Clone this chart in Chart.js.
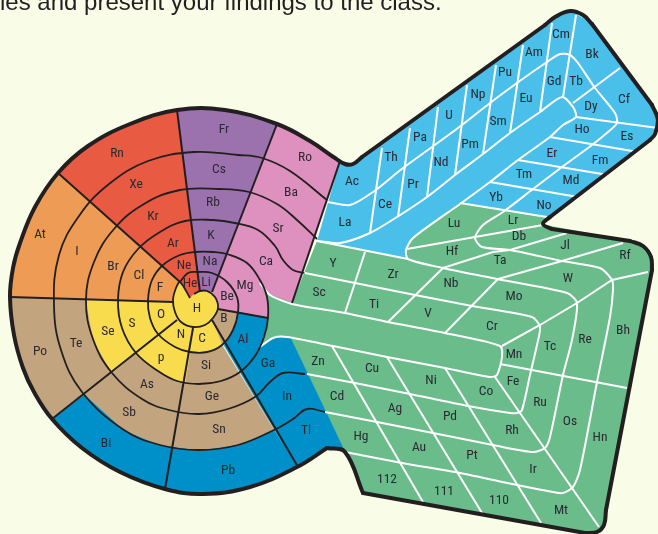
<!DOCTYPE html>
<html><head><meta charset="utf-8">
<style>html,body{margin:0;padding:0;background:#f9fde8;overflow:hidden}canvas{display:block}</style>
<script src="https://cdn.jsdelivr.net/npm/chart.js@4/dist/chart.umd.min.js"></script>
</head><body><canvas id="c" width="658" height="534"></canvas>
<script>
// ---- filled regions (values on the x / y linear scales)
const regionOrange=[[10,297],[173,302],[180,282],[58,173],[35,207],[20,243],[13,268]];
const regionRed=[[58,173],[88,146],[130,124],[177,110],[198,272],[200,292],[195,293],[190,298],[180,282]];
const regionPurple=[[177,110],[225,110],[277,124],[212,292],[202,291],[200,292]];
const regionPink=[[277,124],[310,141],[340,161],[292,303],[270,295],[260,283],[267,297],[268,318],[218,309],[215,295],[212,292]];
const regionSky=[[340,161],[353,164],[552,20],[570,11],[590,22],[652,105],[658,120],[650,140],[547,218],[460,203],[413,238],[406,250],[408,259],[317,241]];
const regionGreen=[[317,241],[408,259],[406,250],[413,238],[460,203],[547,218],[543,225],[630,241],[643,246],[651,257],[652,270],[606,510],[604,525],[597,532],[585,533],[363,493],[345,452],[327,448],[290,337],[273,338],[260,347],[264,337],[268,318],[267,297],[260,283],[270,295],[292,303]];
const regionBlueA=[[238,312],[268,318],[264,337],[260,347],[273,338],[290,337],[344,450],[327,448],[297,467],[240,372],[224,345],[233,330]];
const regionBlueB=[[52,419],[82,392],[124,430],[160,445],[199,450],[238,445],[274,430],[298,467],[250,487],[203,494],[165,489],[120,472],[82,448]];
const regionTanA=[[10,297],[86,300],[93,339],[112,373],[52,419],[34,392],[23,368],[14,335]];
const regionTanB=[[190,352],[207,352],[222,345],[274,430],[238,445],[199,450],[160,445],[124,430],[82,392],[112,373],[136,353],[158,371],[177,381],[185,382]];
const regionTanC=[[218,309],[238,312],[233,330],[222,345],[212,320]];
const regionYellow=[[86,300],[173,302],[175,312],[181,322],[193,327],[212,320],[222,345],[207,352],[190,352],[185,382],[177,381],[158,371],[136,353],[112,373],[93,339]];
const regionH=[[190,298],[180,282],[176,288],[173,300],[175,312],[181,322],[193,327],[205,325],[213,318],[218,308],[215,297],[207,291],[200,291],[194,294]];
const fillRegions=[[regionOrange,'#ee9c55'],[regionRed,'#e85b42'],[regionPurple,'#9b72ae'],[regionPink,'#de90be'],[regionSky,'#4abfe9'],[regionGreen,'#6abc8b'],[regionBlueA,'#0090c9'],[regionBlueB,'#0090c9'],[regionTanA,'#c2a47e'],[regionTanB,'#c2a47e'],[regionTanC,'#c2a47e'],[regionYellow,'#f9dc4e']];

// ---- white separators
const whiteBandA=[[328,202],[350,205],[373,192],[403,168],[432,147],[462,125],[490,103],[517,83],[547,62],[560,54],[570,55],[578,63],[595,88],[615,113],[617,123],[608,132],[592,145],[562,167],[533,189],[503,212],[483,225],[475,238],[482,247],[510,250],[562,261],[600,268],[612,280],[613,290],[610,317],[597,382],[580,470],[573,487],[563,493],[553,492],[517,485],[460,473],[402,463],[345,452]];
const whiteBandB=[[317,241],[340,243],[370,233],[397,217],[427,197],[455,175],[483,154],[510,133],[540,112],[562,97],[573,107],[576,117],[563,125],[550,137],[518,160],[490,182],[460,204],[413,238],[406,250],[408,259],[443,268],[497,279],[567,293],[577,303],[572,340],[563,375],[550,437],[545,448],[533,452],[493,445],[433,433],[377,422],[325,412]];
const whiteBar=[[260,283],[270,295],[292,304],[345,313],[388,322],[445,333],[500,346],[502,357],[497,375],[490,377],[445,368],[387,357],[333,346],[287,337],[273,338],[260,347]];
const whiteBandC=[[305,273],[355,283],[415,295],[472,306],[532,317],[540,327],[537,345],[530,375],[522,410],[517,413],[510,413],[468,406],[410,394],[355,383],[307,374]];
const whiteStraight=[
 [[317,241],[408,259]],[[460,203],[547,217]],
 [[407,249],[475,237],[543,225]],[[443,268],[493,252],[510,250],[567,233]],[[498,279],[562,261],[623,243]],
 [[502,346],[540,325],[577,303],[612,280],[648,272]],
 [[365,252],[345,313]],[[443,268],[388,322]],[[498,279],[445,333]],
 [[576,15],[563,97]],[[552,23],[540,112]],[[523,45],[510,133]],[[496,65],[483,154]],[[467,85],[455,175]],[[438,107],[427,197]],[[410,128],[398,217]],[[382,148],[370,233]],
 [[573,103],[620,68]],[[576,117],[658,128]],[[550,137],[638,152]],[[518,160],[608,175]],[[490,182],[578,197]],
 [[332,346],[423,502]],[[387,357],[482,513]],[[445,368],[541,523]],[[495,377],[599,527]],[[500,364],[627,388]]
];

// ---- black spiral rings and rays
const ringA=[[180,282],[188,273],[198,272],[212,273],[227,282],[237,297],[238,312],[233,330],[222,345],[207,352],[190,352],[175,347],[158,334],[150,318],[148,300],[152,280],[163,265],[180,255],[195,252],[213,252],[227,254],[247,263],[260,280],[267,297],[268,318],[264,337],[255,356],[240,372],[221,381],[199,384],[177,381],[158,371],[136,353],[122,328],[118,300],[123,272],[138,249],[160,232],[185,221],[213,220],[235,223],[258,230],[275,246],[283,260],[293,270],[304,273]];
const ringB=[[305,374],[283,373],[270,382],[255,397],[228,409],[199,414],[169,410],[142,399],[112,373],[93,339],[86,300],[94,262],[114,229],[144,204],[180,190],[219,189],[249,192],[277,204],[297,220],[317,239]];
const ringC=[[325,412],[307,409],[293,419],[274,430],[238,445],[199,450],[160,445],[124,430],[82,392],[61,350],[54,305],[59,255],[79,216],[109,184],[148,161],[194,152],[238,155],[262,158],[290,171],[327,200]];
const rays=[[[10,297],[173,302]],[[58,173],[180,282]],[[177,110],[200,292]],[[277,124],[212,292]],[[340,161],[292,303]],[[218,309],[268,318]],[[212,320],[298,467]],[[193,328],[165,489]],[[52,419],[177,320]]];

// ---- thick outer contour
const outline=[
 [[327,448],[297,467],[250,487],[203,494],[165,489],[120,472],[82,448],[52,419],[34,392],[23,368],[14,335],[10,297],[13,268],[20,243],[35,207],[58,173],[88,146],[130,124],[177,110],[225,110],[277,124],[310,141],[335,158],[345,164],[353,164],[362,157]],
 [[362,157],[545,25]],[[545,25],[555,17],[570,11],[583,15],[592,24]],[[592,24],[652,105]],[[652,105],[658,120],[655,134],[650,140]],[[650,140],[550,217]],[[550,217],[543,224],[552,229]],[[552,229],[630,241]],[[630,241],[643,246],[651,257],[652,270]],[[652,270],[606,510]],[[606,510],[604,525],[597,532],[585,533]],[[585,533],[363,493]],[[363,493],[345,452],[327,448]]
];

// ---- element labels
const symbols=['Fr','Rn','Ro','Xe','Cs','Ba','Kr','Rb','Sr','At','I','Br','Cl','Ar','K','Ca','Ne','Na','He','Li','Mg','F','Be','H','B','O','Al','N','C','S','Se','Te','Po','p','Si','Ga','As','Ge','In','Sb','Bi','Sn','Tl','Pb','Ac','La','Th','Ce','Pa','Pr','U','Nd','Np','Pm','Pu','Sm','Am','Eu','Cm','Gd','Bk','Tb','Dy','Cf','Ho','Es','Er','Fm','Tm','Md','Yb','No','Lu','Lr','Db','Jl','Rf','Hf','Ta','W','Y','Zr','Nb','Mo','Bh','Sc','Ti','V','Cr','Re','Tc','Mn','Fe','Co','Ru','Rh','Os','Hn','Zn','Cu','Ni','Cd','Ag','Pd','Pt','Ir','Hg','Au','112','111','110','Mt'];
const symbolX=[224,117,305,136,219,291,153,213,278,40,77,113,139,173,211,266,184,210,190,206,245,160,227,197,224,161,243,181,202,132,108,76,40,161,206,268,147,212,287,129,106,219,306,228,352,345,391,385,420,413,449,441,478,470,505,498,534,526,561,554,592,576,591,624,582,627,552,600,524,571,496,544,454,513,519,565,625,452,500,568,333,393,451,514,623,319,374,428,492,585,550,514,513,486,540,512,570,600,318,372,431,337,395,450,472,533,361,419,387,444,499,561];
const symbolY=[130,154,158,185,170,193,217,203,229,235,252,267,276,244,236,262,266,262,284,283,286,288,297,309,319,315,340,335,339,324,332,344,352,358,366,364,385,397,397,413,444,430,431,471,182,223,158,205,138,185,116,163,95,145,73,122,53,99,35,82,55,82,107,100,130,137,154,161,175,181,198,206,224,221,237,246,256,252,261,279,264,275,284,297,331,293,305,314,327,340,347,355,382,392,403,431,422,438,362,369,381,397,409,417,456,470,437,448,480,492,501,511];
const captionText='les and present your findings to the class.';

const datasets=[];
const add=(data,o)=>datasets.push(Object.assign({data,showLine:true,pointRadius:0,pointHoverRadius:0,clip:false},o));
fillRegions.forEach(([pts,col])=>add(pts,{fill:'shape',backgroundColor:col,borderColor:col,borderWidth:0.6,tension:0}));
[whiteBandA,whiteBandB,whiteBar,whiteBandC].forEach(p=>add(p,{borderColor:'#ffffff',borderWidth:2,tension:0.25,borderJoinStyle:'round',fill:false}));
whiteStraight.forEach(p=>add(p,{borderColor:'#ffffff',borderWidth:2,tension:0,fill:false}));
[ringA,ringB,ringC].forEach(p=>add(p,{borderColor:'#231f20',borderWidth:1.8,tension:0.4,borderJoinStyle:'round',fill:false}));
rays.forEach(p=>add(p,{borderColor:'#231f20',borderWidth:2,tension:0,fill:false}));
add(regionH,{fill:'shape',backgroundColor:'#f9dc4e',borderColor:'#231f20',borderWidth:1.8,tension:0.3,borderJoinStyle:'round'});
outline.forEach(p=>add(p,{borderColor:'#231f20',borderWidth:4,tension:0.4,borderCapStyle:'round',borderJoinStyle:'round',fill:false}));
const n=datasets.length;
datasets.forEach((d,i)=>{d.order=n-i;});

const labelPlugin={id:'labels',afterDatasetsDraw(chart){
  const {ctx,scales:{x,y}}=chart;
  ctx.save();
  ctx.fillStyle='#2b2a33';ctx.textAlign='center';ctx.textBaseline='middle';
  ctx.font='13.5px "Liberation Sans Narrow","Roboto Condensed","Liberation Sans",sans-serif';
  symbols.forEach((s,i)=>ctx.fillText(s,x.getPixelForValue(symbolX[i]),y.getPixelForValue(symbolY[i])));
  ctx.fillStyle='#231f20';ctx.textAlign='left';ctx.textBaseline='alphabetic';
  ctx.font='24px "Liberation Sans",sans-serif';
  ctx.fillText(captionText,x.getPixelForValue(0),y.getPixelForValue(10));
  ctx.restore();
}};

new Chart(document.getElementById('c'),{
  type:'scatter',
  data:{datasets},
  plugins:[labelPlugin],
  options:{responsive:false,animation:false,devicePixelRatio:1,events:[],
    layout:{padding:0},
    plugins:{legend:{display:false},tooltip:{enabled:false},title:{display:false}},
    scales:{
      x:{type:'linear',min:0,max:658,display:false},
      y:{type:'linear',min:0,max:534,reverse:true,display:false}
    }}
});
</script></body></html>
